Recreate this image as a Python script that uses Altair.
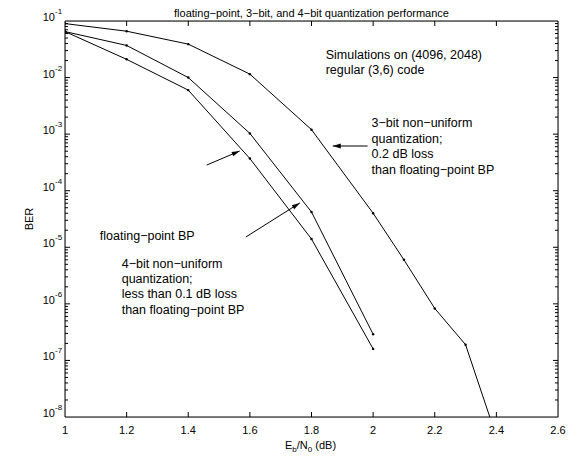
import math
import altair as alt
import pandas as pd

# ---------------- data ----------------
snr_fp = [1.0, 1.2, 1.4, 1.6, 1.8, 2.0]
ber_fp = [0.065, 0.021, 0.006, 3.7e-4, 1.4e-5, 1.6e-7]

snr_4bit = [1.0, 1.2, 1.4, 1.6, 1.8, 2.0]
ber_4bit = [0.065, 0.037, 0.010, 1.03e-3, 4.2e-5, 2.9e-7]

snr_3bit = [1.0, 1.2, 1.4, 1.6, 1.8, 2.0, 2.1, 2.2, 2.3, 2.4]
ber_3bit = [0.09, 0.066, 0.039, 0.0115, 1.2e-3, 4.0e-5, 6.0e-6, 8.3e-7, 1.9e-7, 4.5e-9]

x_tick_values = [1.0, 1.2, 1.4, 1.6, 1.8, 2.0, 2.2, 2.4, 2.6]
x_tick_labels = ["1", "1.2", "1.4", "1.6", "1.8", "2", "2.2", "2.4", "2.6"]
y_decades = [1e-1, 1e-2, 1e-3, 1e-4, 1e-5, 1e-6, 1e-7, 1e-8]
y_exponents = ["-1", "-2", "-3", "-4", "-5", "-6", "-7", "-8"]

title_text = "floating\u2212point, 3\u2212bit, and 4\u2212bit quantization performance"

# annotation texts (x in dB, y in BER)
note_text = ["Simulations on (4096, 2048)", "regular (3,6) code",
             "3\u2212bit non\u2212uniform", "quantization;", "0.2 dB loss", "than floating\u2212point BP",
             "floating\u2212point BP",
             "4\u2212bit non\u2212uniform", "quantization;", "less than 0.1 dB loss", "than floating\u2212point BP"]
note_x = [1.846, 1.846, 1.995, 1.995, 1.995, 1.995, 1.113, 1.184, 1.184, 1.184, 1.184]
note_y = [0.0251, 0.0136, 1.57e-3, 8.2e-4, 4.46e-4, 2.32e-4, 1.58e-5, 5.06e-6, 2.75e-6, 1.49e-6, 7.8e-7]

arrow_x = [1.982, 1.46, 1.587]
arrow_y = [6.17e-4, 2.84e-4, 1.52e-5]
arrow_x2 = [1.869, 1.567, 1.762]
arrow_y2 = [6.17e-4, 5.04e-4, 6.07e-5]

# ---------------- layout ----------------
W, H = 493, 396
XDOM = [1.0, 2.6]
YDOM = [1e-8, 1e-1]
FONT = "Liberation Sans"

xs = alt.Scale(domain=XDOM, nice=False, zero=False)
ys = alt.Scale(type="log", domain=YDOM, nice=False)


def to_px(x, y):
    return ((x - XDOM[0]) / (XDOM[1] - XDOM[0]) * W,
            H * (math.log10(YDOM[1]) - math.log10(y)) / (math.log10(YDOM[1]) - math.log10(YDOM[0])))


curves = pd.DataFrame({
    "snr": snr_fp + snr_4bit + snr_3bit,
    "ber": ber_fp + ber_4bit + ber_3bit,
    "series": ["fp"] * len(snr_fp) + ["4bit"] * len(snr_4bit) + ["3bit"] * len(snr_3bit),
})

X = alt.X("snr:Q", scale=xs, axis=None)
Y = alt.Y("ber:Q", scale=ys, axis=None)

lines = alt.Chart(curves).mark_line(color="black", strokeWidth=1, clip=True).encode(
    x=X, y=Y, detail="series:N")
dots = alt.Chart(curves).mark_circle(size=6, color="black", opacity=1, clip=True).encode(x=X, y=Y)

# frame
frame = alt.Chart(pd.DataFrame({"k": [0]})).mark_rect(
    fill=None, filled=False, stroke="black", strokeWidth=1).encode(
    x=alt.value(0), x2=alt.value(W), y=alt.value(0), y2=alt.value(H))

# ticks (inside, MATLAB style)
xt = pd.DataFrame({"snr": x_tick_values[1:-1]})
xt_bottom = alt.Chart(xt).mark_rule(color="black", strokeWidth=1).encode(
    x=X, y=alt.value(H), y2=alt.value(H - 5))
xt_top = alt.Chart(xt).mark_rule(color="black", strokeWidth=1).encode(
    x=X, y=alt.value(0), y2=alt.value(5))

ymaj = pd.DataFrame({"ber": y_decades[1:-1]})
ymin = pd.DataFrame({"ber": [m * 10.0 ** k for k in range(-8, -1) for m in range(2, 10)]})
yt_l = alt.Chart(ymaj).mark_rule(color="black", strokeWidth=1).encode(
    y=Y, x=alt.value(0), x2=alt.value(5))
yt_r = alt.Chart(ymaj).mark_rule(color="black", strokeWidth=1).encode(
    y=Y, x=alt.value(W), x2=alt.value(W - 5))
ym_l = alt.Chart(ymin).mark_rule(color="black", strokeWidth=1).encode(
    y=Y, x=alt.value(0), x2=alt.value(3))
ym_r = alt.Chart(ymin).mark_rule(color="black", strokeWidth=1).encode(
    y=Y, x=alt.value(W), x2=alt.value(W - 3))

# tick labels
xl = pd.DataFrame({"snr": x_tick_values, "lab": x_tick_labels})
x_labels = alt.Chart(xl).mark_text(font=FONT, fontSize=11, baseline="middle", align="center").encode(
    x=X, y=alt.value(H + 14), text="lab:N")

yl = pd.DataFrame({"ber": y_decades, "base": ["10"] * len(y_decades), "exp": y_exponents})
y_base = alt.Chart(yl).mark_text(font=FONT, fontSize=11, baseline="middle", align="right", dy=-3).encode(
    y=Y, x=alt.value(-10), text="base:N")
y_exp = alt.Chart(yl).mark_text(font=FONT, fontSize=8, baseline="middle", align="left", dy=-9).encode(
    y=Y, x=alt.value(-10), text="exp:N")

# titles
title = alt.Chart(pd.DataFrame({"t": [title_text]})).mark_text(
    font=FONT, fontSize=11, baseline="middle", align="center").encode(
    x=alt.value(W / 2), y=alt.value(-7), text="t:N")
ylab = alt.Chart(pd.DataFrame({"t": ["BER"]})).mark_text(
    font=FONT, fontSize=11, baseline="middle", align="center", angle=270).encode(
    x=alt.value(-35), y=alt.value(H / 2), text="t:N")

xl_parts = pd.DataFrame({
    "t": ["E", "b", "/N", "0", "(dB)"],
    "px": [220.0, 227.3, 231.8, 242.8, 250.3],
    "fs": [11, 8, 11, 8, 11],
    "dy": [0, 4, 0, 4, 0],
})
xlab_layers = []
for _, r in xl_parts.iterrows():
    xlab_layers.append(
        alt.Chart(pd.DataFrame({"t": [r["t"]]})).mark_text(
            font=FONT, fontSize=int(r["fs"]), baseline="middle", align="left", dy=float(r["dy"])).encode(
            x=alt.value(float(r["px"])), y=alt.value(H + 29), text="t:N"))

# annotations
notes = pd.DataFrame({"snr": note_x, "ber": note_y, "t": note_text})
note_marks = alt.Chart(notes).mark_text(font=FONT, fontSize=12.5, align="left", baseline="middle").encode(
    x=X, y=Y, text="t:N")

angles = []
for x1, y1, x2, y2 in zip(arrow_x, arrow_y, arrow_x2, arrow_y2):
    p1 = to_px(x1, y1)
    p2 = to_px(x2, y2)
    a = math.degrees(math.atan2(p2[0] - p1[0], -(p2[1] - p1[1]))) % 360
    angles.append(a)

arrows = pd.DataFrame({"snr": arrow_x, "ber": arrow_y, "snr2": arrow_x2, "ber2": arrow_y2, "ang": angles})
arrow_lines = alt.Chart(arrows).mark_rule(color="black", strokeWidth=1).encode(
    x=X, y=Y, x2="snr2:Q", y2="ber2:Q")
arrow_heads = alt.Chart(arrows).mark_point(
    shape="M0,0 L-0.6,2 L0.6,2 Z", size=64, filled=True, color="black", opacity=1, strokeWidth=0).encode(
    x=alt.X("snr2:Q", scale=xs, axis=None), y=alt.Y("ber2:Q", scale=ys, axis=None),
    angle=alt.Angle("ang:Q", scale=None))

chart = alt.layer(
    lines, dots, frame, xt_bottom, xt_top, yt_l, yt_r, ym_l, ym_r,
    x_labels, y_base, y_exp, title, ylab, *xlab_layers,
    note_marks, arrow_lines, arrow_heads,
).properties(
    width=W, height=H,
    autosize=alt.AutoSizeParams(type="none"),
    padding={"left": 57, "top": 13, "right": 13, "bottom": 40},
).configure_view(stroke=None).configure(background="white")

chart.save("out.html", embed_options={"renderer": "svg", "actions": False})
